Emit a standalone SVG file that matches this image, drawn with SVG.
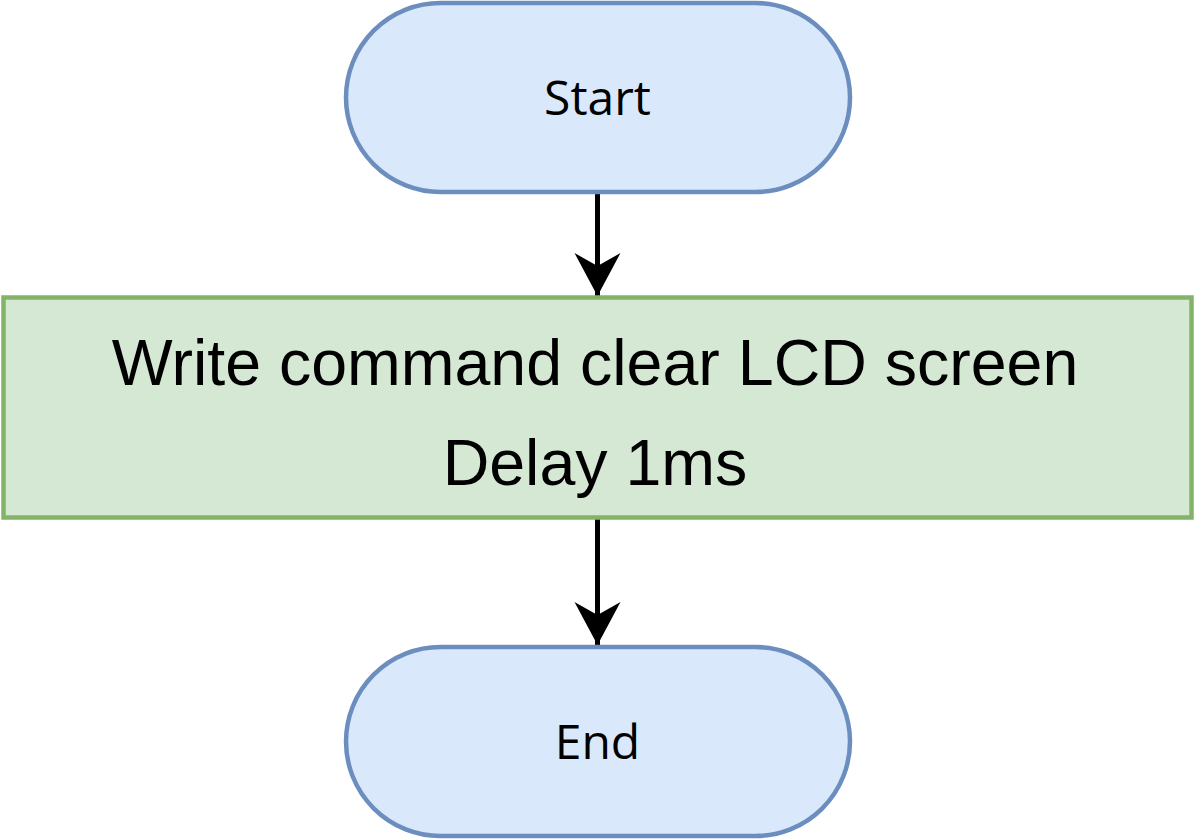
<svg xmlns="http://www.w3.org/2000/svg" width="1195" height="840" viewBox="0 0 1195 840">
<style>
.term{fill:#dae8fc;stroke:#6c8ebf;stroke-width:4.5}
.proc{fill:#d5e8d4;stroke:#82b366;stroke-width:4.5}
.t1{font-family:"Open Sans","Noto Sans",sans-serif;font-size:48px;fill:#000;text-anchor:middle}
.t2{font-family:"Liberation Sans",Arial,sans-serif;font-size:64.5px;fill:#000;text-anchor:middle}
.edge{stroke:#000;stroke-width:5;fill:none}
</style>
<defs>
<marker id="arr" markerUnits="userSpaceOnUse" markerWidth="50" markerHeight="50" refX="43" refY="23" orient="auto" viewBox="0 0 50 50">
<path d="M43,23 L0,0 L13,23 L0,46 Z" fill="#000"/>
</marker>
</defs>
<rect width="1195" height="840" fill="#fff"/>
<g id="connectors">
<path class="edge" d="M597.5,192 L597.5,296" marker-end="url(#arr)"/>
<path class="edge" d="M597.5,518 L597.5,645" marker-end="url(#arr)"/>
</g>
<g id="start">
<rect class="term" x="346" y="3" width="504" height="189" rx="94.5" ry="94.5"/>
<text class="t1" x="597.5" y="115">Start</text>
</g>
<g id="process">
<rect class="proc" x="3.5" y="297.5" width="1188" height="220"/>
<text class="t2" x="595" y="385">Write command clear LCD screen</text>
<text class="t2" x="595" y="485">Delay 1ms</text>
</g>
<g id="end">
<rect class="term" x="346" y="647" width="504" height="189" rx="94.5" ry="94.5"/>
<text class="t1" x="597.5" y="759">End</text>
</g>
</svg>
